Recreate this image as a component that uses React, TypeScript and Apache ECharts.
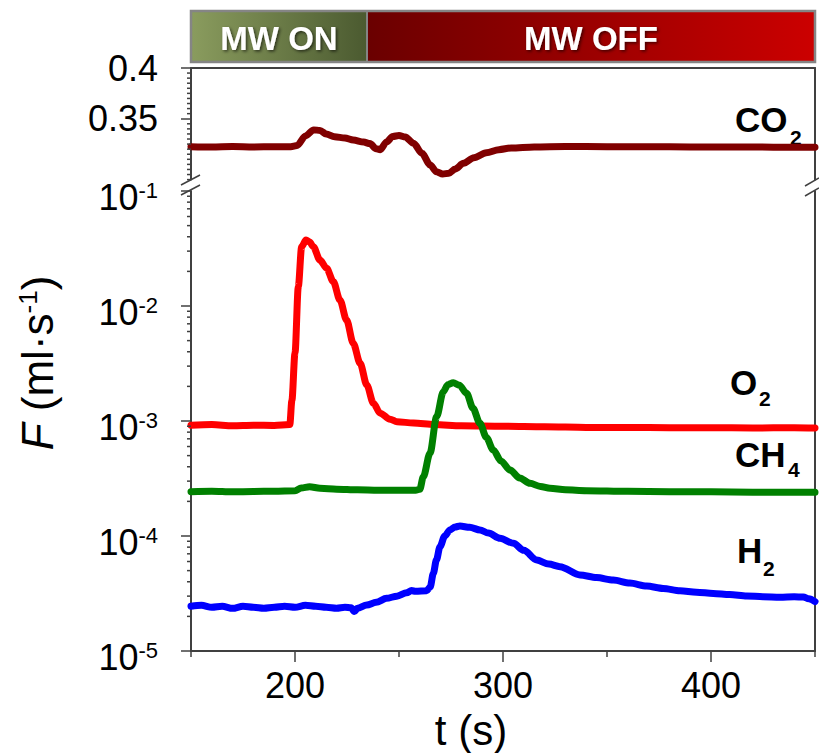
import React, { useEffect, useRef } from 'react';
import * as echarts from 'echarts';

const FONT = '"Liberation Sans", Arial, Helvetica, sans-serif';

// ---- data (t in s, F in ml/s) ----
const co2T = [150, 160, 170, 180, 190, 198, 201, 205, 209, 212, 215, 219, 224, 228, 233, 236, 239, 241, 244, 247, 250, 253, 257, 261, 265, 268, 271, 274, 277, 281, 286, 292, 298, 304, 315, 330, 350, 370, 390, 410, 430, 450];
const co2V = [0.3225, 0.3222, 0.3226, 0.3222, 0.3224, 0.3225, 0.3235, 0.333, 0.339, 0.3385, 0.335, 0.3322, 0.331, 0.329, 0.327, 0.3255, 0.3205, 0.3195, 0.327, 0.3325, 0.3335, 0.332, 0.3258, 0.316, 0.3044, 0.2978, 0.2955, 0.2962, 0.3005, 0.306, 0.3115, 0.3165, 0.3195, 0.3212, 0.3222, 0.3226, 0.3225, 0.3224, 0.3222, 0.3222, 0.322, 0.3218];

const o2T = [150, 160, 170, 180, 190, 197.5, 198.5, 200, 201.6, 203.2, 205.3, 207, 208.8, 212, 215.2, 218.4, 221.6, 224.8, 228, 231.3, 234.5, 237.7, 240.9, 245.7, 249, 257, 267, 280, 300, 320, 340, 360, 380, 400, 420, 440, 450];
const o2V = [9.2e-4, 9.3e-4, 9.1e-4, 9.2e-4, 9.15e-4, 9.3e-4, 1.5e-3, 3.9e-3, 1.48e-2, 3.28e-2, 3.75e-2, 3.6e-2, 3.28e-2, 2.51e-2, 2.13e-2, 1.63e-2, 1.13e-2, 7.55e-3, 4.74e-3, 3.18e-3, 2.06e-3, 1.43e-3, 1.17e-3, 1.035e-3, 9.86e-4, 9.6e-4, 9.3e-4, 9.1e-4, 9.0e-4, 8.9e-4, 8.8e-4, 8.8e-4, 8.75e-4, 8.75e-4, 8.7e-4, 8.75e-4, 8.7e-4];

const ch4T = [150, 160, 170, 180, 190, 200, 203, 207, 212, 220, 230, 240, 250, 258, 260, 261.7, 264.9, 268.1, 271.3, 273.5, 276.1, 279, 282.5, 285.5, 288.9, 292, 295.3, 299, 303.4, 308, 313, 318, 322.6, 330, 340, 360, 380, 400, 420, 440, 450];
const ch4V = [2.43e-4, 2.45e-4, 2.42e-4, 2.44e-4, 2.45e-4, 2.47e-4, 2.62e-4, 2.68e-4, 2.6e-4, 2.55e-4, 2.52e-4, 2.5e-4, 2.5e-4, 2.5e-4, 2.55e-4, 3.28e-4, 5.24e-4, 1.09e-3, 1.8e-3, 2.07e-3, 2.15e-3, 2.05e-3, 1.74e-3, 1.3e-3, 9.55e-4, 7.2e-4, 5.6e-4, 4.5e-4, 3.75e-4, 3.2e-4, 2.87e-4, 2.7e-4, 2.6e-4, 2.52e-4, 2.48e-4, 2.45e-4, 2.43e-4, 2.42e-4, 2.4e-4, 2.4e-4, 2.4e-4];

const h2T = [150, 155, 160, 165, 170, 175, 180, 185, 190, 195, 200, 205, 210, 215, 220, 224, 227, 228.5, 230, 234.5, 239, 244, 249, 253.7, 256, 258, 263.3, 265, 266.5, 268, 269.7, 272, 274.5, 277, 279.3, 284, 288.9, 293, 298.6, 305, 310, 316.2, 322, 327.4, 337, 345, 353, 361, 369.1, 377, 385.1, 393, 401.1, 409, 417.2, 425, 433.2, 440, 444.4, 447, 450];
const h2V = [2.45e-5, 2.5e-5, 2.4e-5, 2.45e-5, 2.35e-5, 2.45e-5, 2.4e-5, 2.35e-5, 2.4e-5, 2.45e-5, 2.4e-5, 2.5e-5, 2.45e-5, 2.4e-5, 2.35e-5, 2.4e-5, 2.38e-5, 2.2e-5, 2.35e-5, 2.51e-5, 2.65e-5, 2.87e-5, 3.0e-5, 3.21e-5, 3.35e-5, 3.3e-5, 3.34e-5, 3.6e-5, 4.73e-5, 6.2e-5, 8.07e-5, 1.0e-4, 1.13e-4, 1.2e-4, 1.22e-4, 1.19e-4, 1.13e-4, 1.06e-4, 9.55e-5, 8.63e-5, 7.5e-5, 6.18e-5, 5.7e-5, 5.41e-5, 4.58e-5, 4.35e-5, 4.14e-5, 3.9e-5, 3.67e-5, 3.5e-5, 3.34e-5, 3.25e-5, 3.17e-5, 3.1e-5, 3.01e-5, 2.97e-5, 2.93e-5, 2.96e-5, 2.95e-5, 2.85e-5, 2.69e-5];

// ---- ticks ----
const xMajorTicks = [200, 300, 400];
const xMinorTicks = [150, 250, 350, 450];
const topMajorTicks = [0.35, 0.4];
const topMinorTicks = [0.29, 0.295, 0.3, 0.305, 0.31, 0.315, 0.32, 0.325, 0.33, 0.335, 0.34, 0.345, 0.355, 0.36, 0.365, 0.37, 0.375, 0.38, 0.385, 0.39, 0.395];
const logMajorTicks = [1e-5, 1e-4, 1e-3, 1e-2, 1e-1];
const logMinorTicks = [
  2e-5, 3e-5, 4e-5, 5e-5, 6e-5, 7e-5, 8e-5, 9e-5,
  2e-4, 3e-4, 4e-4, 5e-4, 6e-4, 7e-4, 8e-4, 9e-4,
  2e-3, 3e-3, 4e-3, 5e-3, 6e-3, 7e-3, 8e-3, 9e-3,
  2e-2, 3e-2, 4e-2, 5e-2, 6e-2, 7e-2, 8e-2, 9e-2,
];

const zip = (t: number[], v: number[]) => t.map((x, i) => [x, v[i]]);

const AXIS_COLOR = '#404040';

function tickSeries(xi: number, yi: number, data: number[][], dx: number, dy: number) {
  return {
    type: 'custom',
    xAxisIndex: xi,
    yAxisIndex: yi,
    clip: false,
    silent: true,
    z: 5,
    data,
    renderItem: (_p: any, api: any) => {
      const p = api.coord([api.value(0), api.value(1)]);
      return {
        type: 'line',
        shape: { x1: p[0], y1: p[1], x2: p[0] + dx, y2: p[1] + dy },
        style: { stroke: AXIS_COLOR, lineWidth: 1.5 },
      };
    },
  };
}

function lineSeries(name: string, xi: number, yi: number, data: number[][], color: string) {
  return {
    name,
    type: 'line',
    xAxisIndex: xi,
    yAxisIndex: yi,
    data,
    showSymbol: false,
    smooth: 0.3,
    smoothMonotone: 'x',
    lineStyle: { color, width: 7, cap: 'round', join: 'round' },
    itemStyle: { color },
    z: 3,
  };
}

function label(main: string, sub: string, x: number, y: number, subX: number, subY: number) {
  return [
    { type: 'text', x, y, style: { text: main, font: `bold 35px ${FONT}`, fill: '#000', align: 'left', verticalAlign: 'middle' } },
    { type: 'text', x: subX, y: subY, style: { text: sub, font: `bold 21px ${FONT}`, fill: '#000', align: 'left', verticalAlign: 'middle' } },
  ];
}

export default function App() {
  const ref = useRef<HTMLDivElement>(null);

  useEffect(() => {
    document.body.style.margin = '0';
    if (!ref.current) return;
    const chart = echarts.init(ref.current, null, { renderer: 'svg' });

    const axisLine = { show: true, onZero: false, lineStyle: { color: AXIS_COLOR, width: 2 } };
    const tickStyle = { color: AXIS_COLOR, width: 1.5 };

    const option: any = {
      animation: false,
      backgroundColor: '#fff',
      grid: [
        { left: 191, right: 4, top: 68, height: 111.6 },
        { left: 191, right: 4, top: 191, height: 460 },
      ],
      xAxis: [
        {
          gridIndex: 0, type: 'value', min: 150, max: 450, position: 'top',
          axisLine, axisTick: { show: false }, axisLabel: { show: false }, splitLine: { show: false },
        },
        {
          gridIndex: 1, type: 'value', min: 150, max: 450, position: 'bottom',
          axisLine,
          axisTick: { show: true, customValues: xMajorTicks, length: 11, lineStyle: tickStyle },
          axisLabel: { customValues: xMajorTicks, fontSize: 36, fontFamily: FONT, color: '#000', margin: 16 },
          splitLine: { show: false },
        },
      ],
      yAxis: [
        {
          gridIndex: 0, type: 'value', min: 0.29, max: 0.4, position: 'left',
          axisLine,
          axisTick: { show: true, customValues: topMajorTicks, length: 10, lineStyle: tickStyle },
          axisLabel: {
            customValues: topMajorTicks, fontSize: 36, fontFamily: FONT, color: '#000', margin: 33,
            padding: [12, 0, 0, 0],
            formatter: (v: number) => String(Math.round(v * 100) / 100),
          },
          splitLine: { show: false },
        },
        {
          gridIndex: 0, type: 'value', min: 0.29, max: 0.4, position: 'right',
          axisLine, axisTick: { show: false }, axisLabel: { show: false }, splitLine: { show: false },
        },
        {
          gridIndex: 1, type: 'log', logBase: 10, min: 1e-5, max: 1e-1, position: 'left',
          axisLine,
          axisTick: { show: true, customValues: logMajorTicks, length: 10, lineStyle: tickStyle },
          axisLabel: {
            customValues: logMajorTicks, margin: 33, padding: [12, 0, 0, 0],
            formatter: (v: number) => `{b|10}{s|${Math.round(Math.log10(v))}}`,
            rich: {
              b: { fontSize: 36, fontFamily: FONT, color: '#000' },
              s: { fontSize: 22, fontFamily: FONT, color: '#000', verticalAlign: 'top' },
            },
          },
          splitLine: { show: false },
        },
        {
          gridIndex: 1, type: 'log', logBase: 10, min: 1e-5, max: 1e-1, position: 'right',
          axisLine, axisTick: { show: false }, axisLabel: { show: false }, splitLine: { show: false },
        },
      ],
      series: [
        lineSeries('CO2', 0, 0, zip(co2T, co2V), '#800000'),
        lineSeries('O2', 1, 2, zip(o2T, o2V), '#ff0000'),
        lineSeries('CH4', 1, 2, zip(ch4T, ch4V), '#008000'),
        lineSeries('H2', 1, 2, zip(h2T, h2V), '#0000ff'),
        tickSeries(0, 0, topMinorTicks.map((v) => [150, v]), -4, 0),
        tickSeries(1, 2, logMinorTicks.map((v) => [150, v]), -4, 0),
        tickSeries(1, 2, xMinorTicks.map((v) => [v, 1e-5]), 0, 6),
      ],
      graphic: [
        // header bar
        {
          type: 'rect', shape: { x: 191, y: 11, width: 176, height: 51 },
          style: { fill: new echarts.graphic.LinearGradient(0, 0, 1, 0, [
            { offset: 0, color: '#8a9c5e' }, { offset: 1, color: '#4b5a30' },
          ]) },
        },
        {
          type: 'rect', shape: { x: 367, y: 11, width: 448, height: 51 },
          style: { fill: new echarts.graphic.LinearGradient(0, 0, 1, 0, [
            { offset: 0, color: '#6a0000' }, { offset: 1, color: '#cc0000' },
          ]) },
        },
        {
          type: 'rect', shape: { x: 191, y: 11, width: 624, height: 51 },
          style: { fill: 'none', stroke: '#858585', lineWidth: 2.5 },
        },
        { type: 'line', shape: { x1: 367, y1: 11, x2: 367, y2: 62 }, style: { stroke: '#858585', lineWidth: 2 } },
        {
          type: 'text', x: 279, y: 38,
          style: {
            text: 'MW ON', font: `bold 33px ${FONT}`, fill: '#fff', align: 'center', verticalAlign: 'middle',
            textShadowColor: 'rgba(0,0,0,0.6)', textShadowBlur: 3, textShadowOffsetX: 1.5, textShadowOffsetY: 1.5,
          },
        },
        {
          type: 'text', x: 591, y: 38,
          style: {
            text: 'MW OFF', font: `bold 33px ${FONT}`, fill: '#fff', align: 'center', verticalAlign: 'middle',
            textShadowColor: 'rgba(0,0,0,0.6)', textShadowBlur: 3, textShadowOffsetX: 1.5, textShadowOffsetY: 1.5,
          },
        },
        // axis break marks
        { type: 'line', shape: { x1: 181, y1: 185, x2: 200, y2: 175 }, style: { stroke: AXIS_COLOR, lineWidth: 1.5 } },
        { type: 'line', shape: { x1: 181, y1: 195, x2: 200, y2: 185 }, style: { stroke: AXIS_COLOR, lineWidth: 1.5 } },
        { type: 'line', shape: { x1: 805, y1: 186, x2: 819, y2: 178 }, style: { stroke: AXIS_COLOR, lineWidth: 1.5 } },
        { type: 'line', shape: { x1: 805, y1: 196, x2: 819, y2: 188 }, style: { stroke: AXIS_COLOR, lineWidth: 1.5 } },
        // series labels
        ...label('CO', '2', 735, 119, 790, 137),
        ...label('O', '2', 730, 382, 759, 398),
        ...label('CH', '4', 735, 454, 788, 469),
        ...label('H', '2', 737, 550, 763, 568),
        // axis names
        {
          type: 'text', x: 471, y: 730,
          style: { text: 't (s)', font: `42px ${FONT}`, fill: '#000', align: 'center', verticalAlign: 'middle' },
        },
        {
          type: 'text', x: 37, y: 363, rotation: Math.PI / 2,
          style: {
            text: '{i|F}{n| (ml·s}{s|-1}{n|)}',
            fill: '#000', align: 'center', verticalAlign: 'middle',
            rich: {
              i: { fontSize: 44, fontStyle: 'italic', fontFamily: FONT, fill: '#000' },
              n: { fontSize: 44, fontFamily: FONT, fill: '#000' },
              s: { fontSize: 26, fontFamily: FONT, fill: '#000', verticalAlign: 'top' },
            },
          },
        },
      ],
    };

    chart.setOption(option);
    return () => chart.dispose();
  }, []);

  return <div ref={ref} style={{ width: 819, height: 753 }} />;
}
